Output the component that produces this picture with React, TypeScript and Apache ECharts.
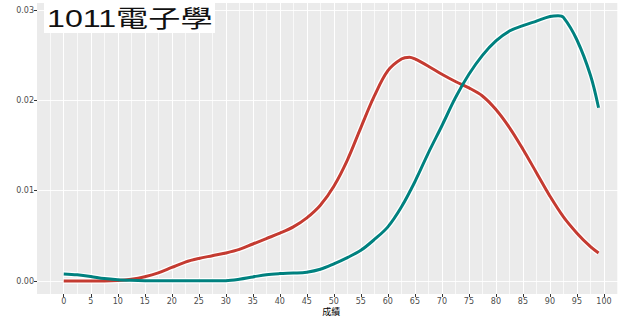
import React, { useEffect, useRef } from "react";
import * as echarts from "echarts";

const titleText = "1011電子學";
const xAxisName = "成績";
const xTickValues = [0, 5, 10, 15, 20, 25, 30, 35, 40, 45, 50, 55, 60, 65, 70, 75, 80, 85, 90, 95, 100];
const yTickValues = [0, 0.01, 0.02, 0.03];

const redScores = [0, 2.5, 5, 7.5, 10, 12.5, 15, 17.5, 20, 22.5, 25, 27.5, 30, 32.5, 35, 37.5, 40, 42.5, 45, 47.5, 50, 52.5, 55, 57.5, 60, 62.5, 64, 65, 67.5, 70, 72.5, 75, 77.5, 80, 82.5, 85, 87.5, 90, 92.5, 95, 97.5, 99];
const redDensity = [0, 0, 0, 0, 0.00005, 0.0002, 0.00048, 0.0009, 0.0015, 0.0021, 0.0025, 0.0028, 0.0031, 0.0035, 0.0041, 0.0047, 0.0053, 0.006, 0.007, 0.0084, 0.0105, 0.0134, 0.017, 0.0205, 0.0233, 0.0246, 0.0248, 0.0246, 0.0238, 0.0229, 0.0221, 0.0214, 0.0205, 0.019, 0.017, 0.0146, 0.012, 0.0094, 0.0071, 0.0053, 0.0038, 0.0031];

const tealScores = [0, 2.5, 5, 7.5, 10, 12.5, 15, 17.5, 20, 22.5, 25, 27.5, 30, 32.5, 35, 37.5, 40, 42.5, 45, 47.5, 50, 52.5, 55, 57.5, 60, 62.5, 65, 67.5, 70, 72.5, 75, 77.5, 80, 82.5, 85, 87.5, 90, 91.5, 92.5, 95, 97.5, 99];
const tealDensity = [0.00078, 0.00068, 0.0005, 0.00027, 0.00014, 0.00007, 0.00003, 0.00002, 0.00002, 0.00002, 0.00002, 0.00002, 0.00004, 0.0002, 0.00045, 0.0007, 0.00082, 0.00088, 0.00098, 0.0013, 0.0019, 0.0026, 0.0034, 0.0046, 0.006, 0.0082, 0.011, 0.0142, 0.0172, 0.0203, 0.0229, 0.025, 0.0266, 0.0277, 0.0283, 0.0288, 0.0293, 0.0294, 0.0292, 0.0267, 0.0228, 0.0192];

const RED = "#C43B31";
const TEAL = "#00817F";

function pairs(xs: number[], ys: number[]) {
  return xs.map((x, i) => [x, ys[i]]);
}

export default function App() {
  const ref = useRef<HTMLDivElement>(null);
  useEffect(() => {
    if (!ref.current) return;
    const chart = echarts.init(ref.current, undefined, { renderer: "svg" });
    const mkLine = (name: string, data: number[][], color: string) => [
      {
        name: name + "-halo",
        type: "line",
        data,
        smooth: 0.35,
        showSymbol: false,
        silent: true,
        z: 2,
        lineStyle: { color: "#FFFFFF", width: 5.5 },
      },
      {
        name,
        type: "line",
        data,
        smooth: 0.35,
        showSymbol: false,
        z: 3,
        lineStyle: { color, width: 3 },
      },
    ];
    chart.setOption({
      animation: false,
      backgroundColor: "#FFFFFF",
      grid: {
        left: 37,
        top: 3,
        right: -7.3,
        bottom: 23,
        outerBoundsMode: "none",
        containLabel: false,
        show: true,
        backgroundColor: "#EBEBEB",
        borderWidth: 0,
      },
      xAxis: {
        type: "value",
        min: -4.95,
        max: 103.95,
        splitNumber: 20,
        name: xAxisName,
        nameLocation: "middle",
        nameGap: 12,
        nameMoveOverlap: false,
        nameTextStyle: { fontSize: 9, lineHeight: 10, color: "#000000", fontFamily: "Noto Sans CJK TC" },
        axisLine: { show: false, onZero: false },
        axisTick: { show: true, length: 3, lineStyle: { color: "#333333", width: 1 }, customValues: xTickValues },
        axisLabel: {
          customValues: xTickValues,
          fontSize: 8,
          lineHeight: 8,
          color: "#4D4D4D",
          margin: 3.5,
          fontFamily: "DejaVu Sans",
          formatter: (v: number) => (v >= -1e-6 && v <= 100.0001 && Math.abs(v / 5 - Math.round(v / 5)) < 1e-6 ? String(Math.round(v)) : ""),
        },
        splitLine: { show: true, lineStyle: { color: "#FFFFFF", width: 1 } },
        minorTick: { show: false, splitNumber: 2 },
        minorSplitLine: { show: true, lineStyle: { color: "#FFFFFF", width: 0.7 } },
      },
      yAxis: {
        type: "value",
        min: -0.00144,
        max: 0.0308,
        splitNumber: 6,
        axisLine: { show: false, onZero: false },
        axisTick: { show: true, length: 3, lineStyle: { color: "#333333", width: 1 }, customValues: yTickValues },
        axisLabel: {
          customValues: yTickValues,
          fontSize: 8,
          color: "#4D4D4D",
          margin: 3,
          fontFamily: "DejaVu Sans",
          formatter: (v: number) => (v >= -1e-9 && Math.abs(v / 0.01 - Math.round(v / 0.01)) < 1e-6 ? v.toFixed(2) : ""),
        },
        splitLine: { show: true, lineStyle: { color: "#FFFFFF", width: 0.9 } },
      },
      graphic: [
        {
          type: "rect",
          shape: { x: 44, y: 3, width: 171, height: 30 },
          style: { fill: "#FFFFFF" },
          z: 10,
        },
        {
          type: "text",
          x: 47,
          y: 19,
          scaleX: 1.34,
          z: 11,
          style: {
            text: titleText,
            fontSize: 24,
            fontFamily: "Liberation Sans, Noto Sans CJK TC",
            fill: "#111111",
            verticalAlign: "middle",
            align: "left",
          },
        },
      ],
      series: [
        ...mkLine("red", pairs(redScores, redDensity), RED),
        ...mkLine("teal", pairs(tealScores, tealDensity), TEAL),
      ],
    });
    return () => chart.dispose();
  }, []);
  return (
    <div
      ref={ref}
      style={{ position: "fixed", left: 0, top: 0, width: 618, height: 317 }}
    />
  );
}
